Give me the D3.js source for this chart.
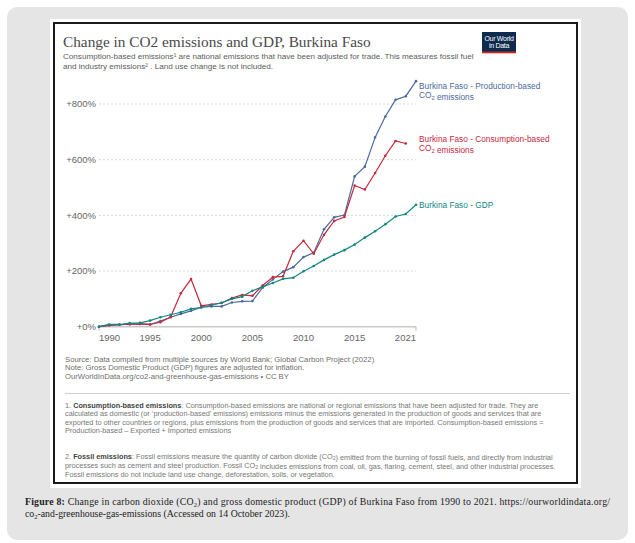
<!DOCTYPE html>
<html>
<head>
<meta charset="utf-8">
<script src="https://cdn.jsdelivr.net/npm/d3@7"></script>
<style>
  body { margin: 0; background: #fff; }
  text { font-family: "Liberation Sans", Arial, sans-serif; }
  text.serif { font-family: "Liberation Serif", "Times New Roman", serif; }
</style>
</head>
<body>
<svg id="chart" width="635" height="543"></svg>
<script>
// values, % change since 1990
const years = d3.range(1990, 2022);
const production = [0, 5, 7, 9, 10, 8, 20, 34, 46, 57, 70, 73, 73, 87, 91, 92,
  140, 170, 198, 214, 250, 266, 350, 393, 401, 540, 575, 680, 755, 815, 828, 882];
const consumption = [0, 5, 7, 9, 10, 8, 16, 35, 120, 171, 75, 80, 85, 103, 114, 111,
  148, 178, 181, 271, 309, 262, 330, 380, 394, 507, 493, 552, 614, 667, 658, null];
const gdp = [0, 8, 8, 13, 14, 22, 34, 43, 52, 64, 69, 77, 86, 100, 108, 129,
  143, 157, 172, 176, 199, 218, 240, 259, 275, 295, 320, 343, 368, 396, 405, 438];
const yTicks = [0, 200, 400, 600, 800];
const xTicks = [1990, 1995, 2000, 2005, 2010, 2015, 2021];
const seriesNames = [
  ['Burkina Faso - Production-based', 'CO|2| emissions'],
  ['Burkina Faso - Consumption-based', 'CO|2| emissions'],
  ['Burkina Faso - GDP']
];
const seriesColors = ['#4c6a9c', '#c8283e', '#0f877f'];

const svg = d3.select('#chart');

// frame: grey card, white sheet, black bordered chart
svg.append('rect').attr('x', 7).attr('y', 7).attr('width', 621).attr('height', 533)
  .attr('rx', 10).attr('fill', '#e5e5e5');
svg.append('rect').attr('x', 50).attr('y', 19).attr('width', 531).attr('height', 469)
  .attr('fill', '#fff');
svg.append('rect').attr('x', 54).attr('y', 23).attr('width', 523).attr('height', 460)
  .attr('fill', '#fff').attr('stroke', '#1a1a1a').attr('stroke-width', 2);

// text with |sub| parts and *bold* parts
function rich(g, x, y, str, size, color, anchor) {
  const t = g.append('text').attr('x', x).attr('y', y)
    .attr('font-size', size).attr('fill', color)
    .attr('text-anchor', anchor || 'start');
  str.split(/(\|[^|]*\||\*[^*]*\*)/).filter(s => s.length).forEach(s => {
    if (s[0] === '|') {
      t.append('tspan').attr('font-size', size * 0.7).attr('dy', size * 0.25).text(s.slice(1, -1));
      t.append('tspan').attr('dy', -size * 0.25).text('');
    } else if (s[0] === '*') {
      t.append('tspan').attr('font-weight', 'bold').attr('fill', '#444').text(s.slice(1, -1));
    } else {
      t.append('tspan').text(s);
    }
  });
  return t;
}

// header
svg.append('text').attr('class', 'serif').attr('x', 63).attr('y', 47)
  .attr('font-size', 15.3).attr('fill', '#4a4a4a')
  .text('Change in CO2 emissions and GDP, Burkina Faso');
rich(svg, 63, 58.5, 'Consumption-based emissions\u00b9 are national emissions that have been adjusted for trade. This measures fossil fuel', 8.1, '#5b5b5b');
rich(svg, 63, 68.5, 'and industry emissions\u00b2 . Land use change is not included.', 8.1, '#5b5b5b');

// logo
const logo = svg.append('g');
logo.append('rect').attr('x', 482).attr('y', 32).attr('width', 34).attr('height', 21).attr('fill', '#0d2a4f');
logo.append('rect').attr('x', 482).attr('y', 51.5).attr('width', 34).attr('height', 1.8).attr('fill', '#ce261e');
logo.append('text').attr('x', 499).attr('y', 40.5).attr('text-anchor', 'middle')
  .attr('font-size', 7).attr('letter-spacing', -0.3).attr('fill', '#fff').text('Our World');
logo.append('text').attr('x', 499).attr('y', 47.5).attr('text-anchor', 'middle')
  .attr('font-size', 7).attr('letter-spacing', -0.3).attr('fill', '#fff').text('in Data');

// scales
const x = d3.scaleLinear().domain([1990, 2021]).range([99, 416]);
const y = d3.scaleLinear().domain([0, 800]).range([326.7, 104]);

const grid = svg.append('g');
grid.selectAll('line').data(yTicks.filter(d => d > 0)).join('line')
  .attr('x1', x(1990)).attr('x2', x(2021))
  .attr('y1', d => y(d)).attr('y2', d => y(d))
  .attr('stroke', '#d9d9d9').attr('stroke-dasharray', '2,2');
svg.append('line').attr('x1', x(1990)).attr('x2', x(2021))
  .attr('y1', y(0)).attr('y2', y(0)).attr('stroke', '#c8c8c8').attr('stroke-width', 1.5);

svg.append('g').selectAll('text').data(yTicks).join('text')
  .attr('x', 96).attr('y', d => y(d) + 3.3)
  .attr('text-anchor', 'end').attr('font-size', 9.5).attr('fill', '#666')
  .text(d => '+' + d + '%');

svg.append('g').selectAll('text').data(xTicks).join('text')
  .attr('x', d => x(d)).attr('y', 340.5)
  .attr('text-anchor', (d, i) => i === 0 ? 'start' : i === xTicks.length - 1 ? 'end' : 'middle')
  .attr('font-size', 9.5).attr('fill', '#666')
  .text(d => d);
svg.append('g').selectAll('line').data([1990, 2021]).join('line')
  .attr('x1', d => x(d)).attr('x2', d => x(d))
  .attr('y1', y(0)).attr('y2', y(0) + 4).attr('stroke', '#bbb');

// series
const series = [production, consumption, gdp];
const line = d3.line()
  .defined(d => d.v != null)
  .x(d => x(d.year)).y(d => y(d.v));

series.forEach((vals, i) => {
  const pts = years.map((yr, j) => ({ year: yr, v: vals[j] }));
  const g = svg.append('g');
  g.append('path').datum(pts).attr('d', line)
    .attr('fill', 'none').attr('stroke', seriesColors[i]).attr('stroke-width', 1.2);
  g.selectAll('circle').data(pts.filter(d => d.v != null)).join('circle')
    .attr('cx', d => x(d.year)).attr('cy', d => y(d.v)).attr('r', 1.3)
    .attr('fill', seriesColors[i]);

  const last = pts.filter(d => d.v != null).pop();
  const names = seriesNames[i];
  const lh = 8.5;
  const top = Math.max(y(last.v) - (names.length - 1) * lh / 2, 86);
  names.forEach((nm, k) => {
    rich(svg, 419, top + k * lh + 3, nm, 8.3, seriesColors[i]);
  });
});

// footer
const foot = ['Source: Data compiled from multiple sources by World Bank; Global Carbon Project (2022)',
  'Note: Gross Domestic Product (GDP) figures are adjusted for inflation.',
  'OurWorldInData.org/co2-and-greenhouse-gas-emissions \u2022 CC BY'];
foot.forEach((s, i) => rich(svg, 65, 361.5 + i * 8.8, s, 7.7, '#6e6e6e'));

svg.append('line').attr('x1', 65).attr('x2', 570).attr('y1', 393.5).attr('y2', 393.5)
  .attr('stroke', '#cfcfcf');

const note1 = ['1. *Consumption-based emissions*: Consumption-based emissions are national or regional emissions that have been adjusted for trade. They are',
  'calculated as domestic (or \u2018production-based\u2019 emissions) emissions minus the emissions generated in the production of goods and services that are',
  'exported to other countries or regions, plus emissions from the production of goods and services that are imported. Consumption-based emissions =',
  'Production-based \u2013 Exported + Imported emissions'];
note1.forEach((s, i) => rich(svg, 65, 407.5 + i * 8.6, s, 7.3, '#777'));

const note2 = ['2. *Fossil emissions*: Fossil emissions measure the quantity of carbon dioxide (CO|2|) emitted from the burning of fossil fuels, and directly from industrial',
  'processes such as cement and steel production. Fossil CO|2| includes emissions from coal, oil, gas, flaring, cement, steel, and other industrial processes.',
  'Fossil emissions do not include land use change, deforestation, soils, or vegetation.'];
note2.forEach((s, i) => rich(svg, 65, 458.5 + i * 9, s, 7.3, '#777'));

// caption below the chart
const cap = svg.append('text').attr('class', 'serif').attr('x', 25).attr('y', 505)
  .attr('font-size', 9.8).attr('fill', '#222')
  .attr('textLength', 585).attr('lengthAdjust', 'spacing');
cap.append('tspan').attr('font-weight', 'bold').text('Figure 8:');
cap.append('tspan').text(' Change in carbon dioxide (CO');
cap.append('tspan').attr('font-size', 6.5).attr('dy', 2).text('2');
cap.append('tspan').attr('dy', -2).text(') and gross domestic product (GDP) of Burkina Faso from 1990 to 2021. https://ourworldindata.org/');
const cap2 = svg.append('text').attr('class', 'serif').attr('x', 25).attr('y', 517)
  .attr('font-size', 9.8).attr('fill', '#222');
cap2.append('tspan').text('co');
cap2.append('tspan').attr('font-size', 6.5).attr('dy', 2).text('2');
cap2.append('tspan').attr('dy', -2).text('-and-greenhouse-gas-emissions (Accessed on 14 October 2023).');
</script>
</body>
</html>
